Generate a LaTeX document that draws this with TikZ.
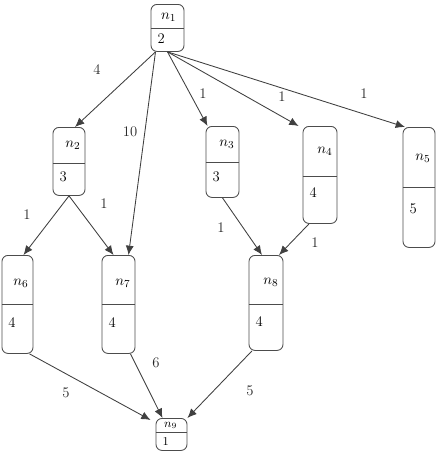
\documentclass[tikz,border=0pt]{standalone}
\usepackage{tikz}
\usetikzlibrary{arrows.meta, calc}

\begin{document}
\begin{tikzpicture}[x=0.75pt, y=-0.75pt, font=\fontsize{11}{13}\selectfont,
          task/.style={draw=black!70, line width=0.65pt, rounded corners=4.5pt, anchor=north, inner sep=0pt},
          divider/.style={draw=black!70, line width=0.65pt},
          tname/.style={anchor=east, inner sep=0pt, xshift=-3.5pt},
          tweight/.style={anchor=west, inner sep=0pt, xshift=5pt},
          elabel/.style={inner sep=0pt, text=black!85},
          ar/.style={draw=black!75, line width=0.65pt, -{Latex[length=7pt, width=6pt]}}]
        \useasboundingbox (0,0) rectangle (438,464);
        % task boxes
        \node[task, minimum width=24.75pt, minimum height=35.25pt] (n1) at (167.5,4) {};
        \node[task, minimum width=24pt, minimum height=51pt] (n2) at (69,127) {};
        \node[task, minimum width=24.75pt, minimum height=53.25pt] (n3) at (222.5,126) {};
        \node[task, minimum width=25.5pt, minimum height=72.75pt] (n4) at (320,126) {};
        \node[task, minimum width=24pt, minimum height=90pt] (n5) at (419,127) {};
        \node[task, minimum width=23.25pt, minimum height=73.5pt] (n6) at (17.5,255) {};
        \node[task, minimum width=24.75pt, minimum height=73.5pt] (n7) at (118.5,255) {};
        \node[task, minimum width=25.5pt, minimum height=71.25pt] (n8) at (266,255) {};
        \node[task, minimum width=23.25pt, minimum height=24pt] (n9) at (171.5,418) {};
        % dividers
        \draw[divider] (n1.west |- 0,28) -- (n1.east |- 0,28);
        \draw[divider] (n2.west |- 0,163) -- (n2.east |- 0,163);
        \draw[divider] (n3.west |- 0,162) -- (n3.east |- 0,162);
        \draw[divider] (n4.west |- 0,176) -- (n4.east |- 0,176);
        \draw[divider] (n5.west |- 0,187) -- (n5.east |- 0,187);
        \draw[divider] (n6.west |- 0,304) -- (n6.east |- 0,304);
        \draw[divider] (n7.west |- 0,304) -- (n7.east |- 0,304);
        \draw[divider] (n8.west |- 0,304) -- (n8.east |- 0,304);
        \draw[divider] (n9.west |- 0,432) -- (n9.east |- 0,432);
        % names and weights
        \node[tname, xshift=-2.5pt] (t1) at (n1.east |- 0,17) {$n_1$};
        \node[tweight] (w1) at (n1.west |- 0,39) {2};
        \node[tname] (t2) at (n2.east |- 0,145) {$n_2$};
        \node[tweight] (w2) at (n2.west |- 0,177) {3};
        \node[tname] (t3) at (n3.east |- 0,144) {$n_3$};
        \node[tweight] (w3) at (n3.west |- 0,177) {3};
        \node[tname] (t4) at (n4.east |- 0,151) {$n_4$};
        \node[tweight] (w4) at (n4.west |- 0,193) {4};
        \node[tname] (t5) at (n5.east |- 0,158) {$n_5$};
        \node[tweight] (w5) at (n5.west |- 0,209) {5};
        \node[tname] (t6) at (n6.east |- 0,283) {$n_6$};
        \node[tweight] (w6) at (n6.west |- 0,323) {4};
        \node[tname] (t7) at (n7.east |- 0,283) {$n_7$};
        \node[tweight] (w7) at (n7.west |- 0,323) {4};
        \node[tname] (t8) at (n8.east |- 0,282) {$n_8$};
        \node[tweight] (w8) at (n8.west |- 0,322) {4};
        \node[tname, xshift=-4pt, font=\small] (t9) at (n9.east |- 0,425.5) {$n_9$};
        \node[tweight, font=\small] (w9) at (n9.west |- 0,441) {1};
        % edges
        \draw[ar] ($(n1.south)+(-12,0)$) -- ($(n2.north)+(6,0)$);
        \draw[ar] ($(n1.south)+(-12,0)$) -- ($(n7.north)+(10,0)$);
        \draw[ar] (n1.south) -- ($(n3.north)+(-15,0)$);
        \draw[ar] (n1.south) -- ($(n4.north west)+(-4,0)$);
        \draw[ar] (n1.south) -- ($(n5.north)+(-14,0)$);
        \draw[ar] (n2.south) -- ($(n6.north)+(6,0)$);
        \draw[ar] (n2.south) -- ($(n7.north)+(-5,0)$);
        \draw[ar] (n3.south) -- ($(n8.north)+(-4,0)$);
        \draw[ar] ($(n4.south)+(-11,0)$) -- ($(n8.north)+(13,0)$);
        \draw[ar] ($(n6.south)+(12,0)$) -- ($(n9.north west)+(-5,2)$);
        \draw[ar] ($(n7.south)+(12,0)$) -- ($(n9.north)+(-9,0)$);
        \draw[ar] ($(n8.south)+(-14,0)$) -- (n9.north east);
        % edge weights
        \node[elabel] (e12) at (97,70) {4};
        \node[elabel] (e17) at (130,132) {10};
        \node[elabel] (e13) at (203,94) {1};
        \node[elabel] (e14) at (282,97) {1};
        \node[elabel] (e15) at (364,94) {1};
        \node[elabel] (e26) at (27,215) {1};
        \node[elabel] (e27) at (104,204) {1};
        \node[elabel] (e38) at (221,228) {1};
        \node[elabel] (e48) at (315,243) {1};
        \node[elabel] (e69) at (66,393) {5};
        \node[elabel] (e79) at (156,363) {6};
        \node[elabel] (e89) at (250,391) {5};
      \end{tikzpicture}
\end{document}
